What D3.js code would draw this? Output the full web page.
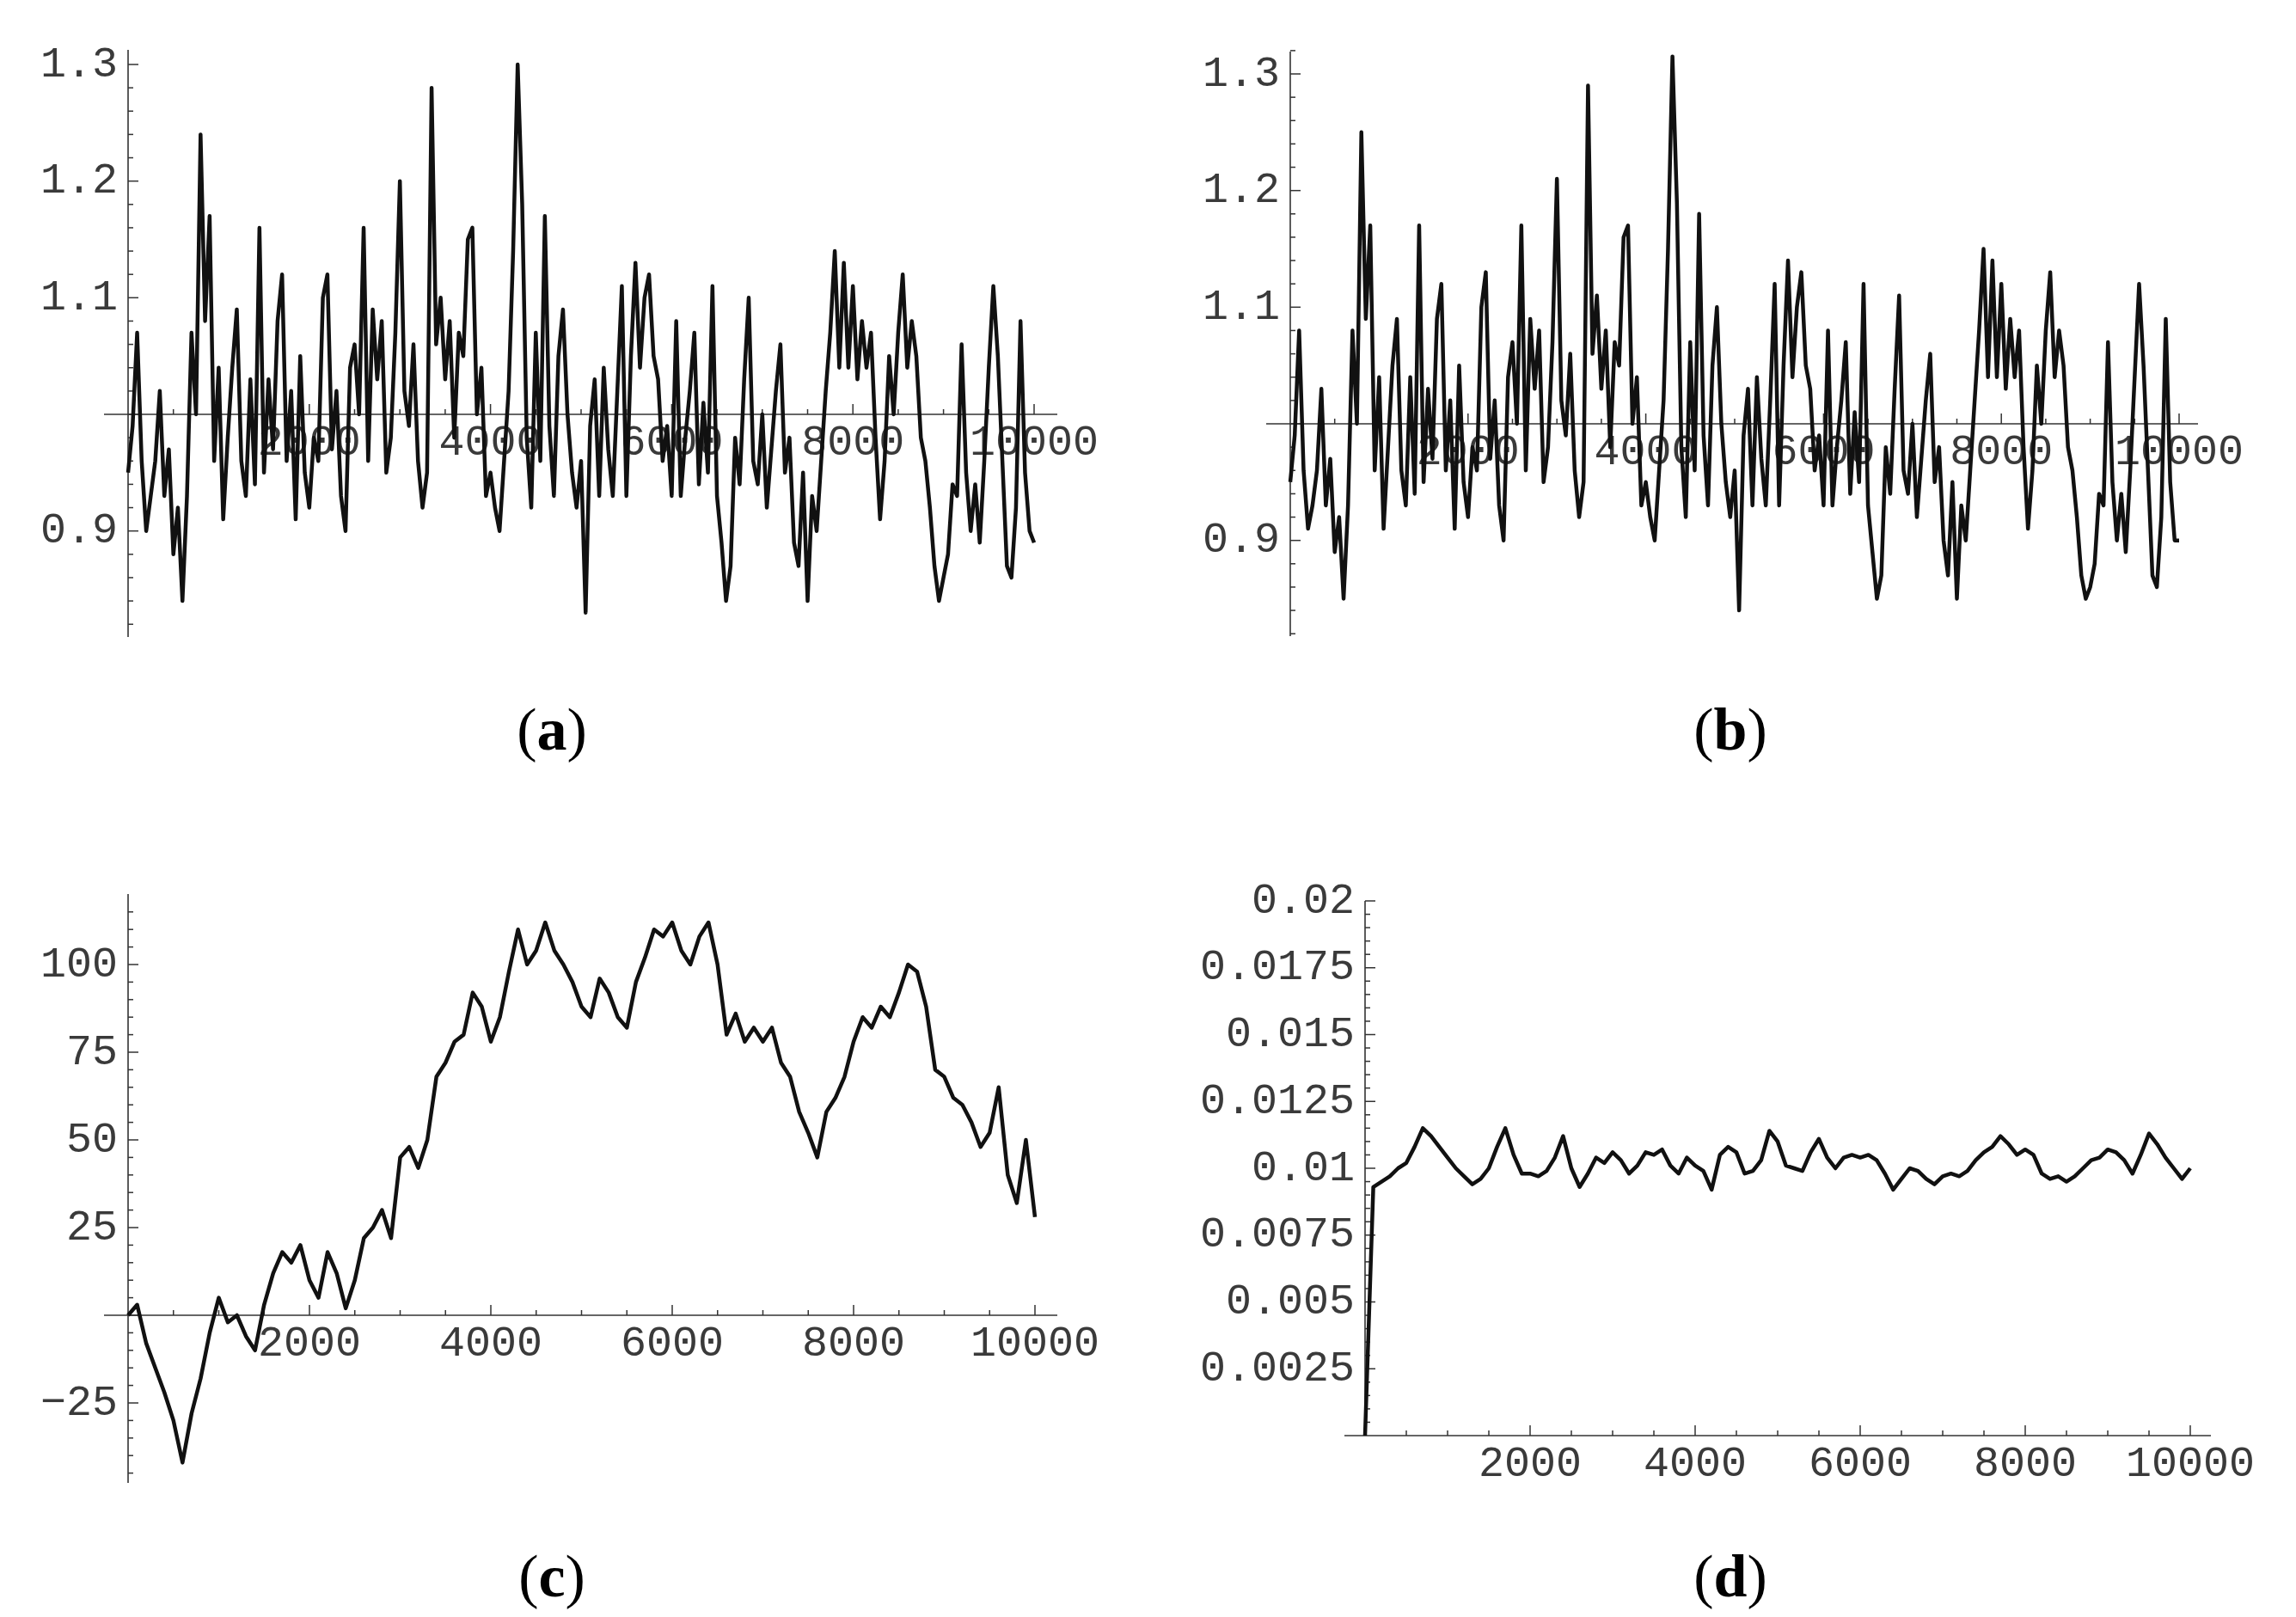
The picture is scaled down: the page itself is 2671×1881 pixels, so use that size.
<!DOCTYPE html>
<html><head><meta charset="utf-8">
<script src="https://cdn.jsdelivr.net/npm/d3@7"></script>
<style>body{margin:0;background:#fff}svg{display:block}</style>
</head><body>
<script>
// ---------- data ----------
const stepAB = 50;
const seriesA = [0.95,0.99,1.07,0.96,0.90,0.93,0.96,1.02,0.93,0.97,0.88,0.92,0.84,0.93,1.07,1.00,1.24,1.08,1.17,0.96,
1.04,0.91,0.98,1.04,1.09,0.96,0.93,1.03,0.94,1.16,0.95,1.03,0.97,1.08,1.12,0.96,1.02,0.91,1.05,0.95,
0.92,0.98,0.96,1.10,1.12,0.97,1.02,0.93,0.90,1.04,1.06,1.00,1.16,0.96,1.09,1.03,1.08,0.95,0.98,1.07,
1.20,1.02,0.99,1.06,0.96,0.92,0.95,1.28,1.06,1.10,1.03,1.08,0.98,1.07,1.05,1.15,1.16,1.00,1.04,0.93,
0.95,0.92,0.90,0.96,1.02,1.14,1.30,1.18,0.98,0.92,1.07,0.96,1.17,0.99,0.93,1.05,1.09,1.00,0.95,0.92,
0.96,0.83,0.99,1.03,0.93,1.04,0.97,0.93,1.02,1.11,0.93,1.05,1.13,1.04,1.10,1.12,1.05,1.03,0.96,0.99,
0.93,1.08,0.93,0.98,1.02,1.07,0.94,1.01,0.95,1.11,0.93,0.89,0.84,0.87,0.98,0.94,1.03,1.10,0.96,0.94,
1.00,0.92,0.97,1.02,1.06,0.95,0.98,0.89,0.87,0.95,0.84,0.93,0.90,0.96,1.02,1.07,1.14,1.04,1.13,1.04,
1.11,1.03,1.08,1.04,1.07,0.98,0.91,0.96,1.05,1.00,1.07,1.12,1.04,1.08,1.05,0.98,0.96,0.92,0.87,0.84,
0.86,0.88,0.94,0.93,1.06,0.95,0.90,0.94,0.89,0.96,1.04,1.11,1.05,0.96,0.87,0.86,0.92,1.08,0.95,0.90,0.89];
const seriesB = [0.95,0.99,1.08,0.96,0.91,0.93,0.96,1.03,0.93,0.97,0.89,0.92,0.85,0.93,1.08,1.00,1.25,1.09,1.17,0.96,
1.04,0.91,0.98,1.05,1.09,0.96,0.93,1.04,0.94,1.17,0.95,1.03,0.97,1.09,1.12,0.96,1.02,0.91,1.05,0.95,
0.92,0.98,0.96,1.10,1.13,0.97,1.02,0.93,0.90,1.04,1.07,1.00,1.17,0.96,1.09,1.03,1.08,0.95,0.98,1.07,
1.21,1.02,0.99,1.06,0.96,0.92,0.95,1.29,1.06,1.11,1.03,1.08,0.98,1.07,1.05,1.16,1.17,1.00,1.04,0.93,
0.95,0.92,0.90,0.96,1.02,1.15,1.315,1.19,0.98,0.92,1.07,0.96,1.18,0.99,0.93,1.05,1.10,1.00,0.95,0.92,
0.96,0.84,0.99,1.03,0.93,1.04,0.97,0.93,1.02,1.12,0.93,1.05,1.14,1.04,1.10,1.13,1.05,1.03,0.96,0.99,
0.93,1.08,0.93,0.98,1.02,1.07,0.94,1.01,0.95,1.12,0.93,0.89,0.85,0.87,0.98,0.94,1.03,1.11,0.96,0.94,
1.00,0.92,0.97,1.02,1.06,0.95,0.98,0.90,0.87,0.95,0.85,0.93,0.90,0.96,1.02,1.08,1.15,1.04,1.14,1.04,
1.12,1.03,1.09,1.04,1.08,0.98,0.91,0.96,1.05,1.00,1.08,1.13,1.04,1.08,1.05,0.98,0.96,0.92,0.87,0.85,
0.86,0.88,0.94,0.93,1.07,0.95,0.90,0.94,0.89,0.96,1.04,1.12,1.05,0.96,0.87,0.86,0.92,1.09,0.95,0.90,0.90];
const stepCD = 100;
const seriesC = [0,3,-8,-15,-22,-30,-42,-28,-18,-5,5,-2,0,-6,-10,3,12,18,15,20,
10,5,18,12,2,10,22,25,30,22,45,48,42,50,68,72,78,80,92,88,
78,85,98,110,100,104,112,104,100,95,88,85,96,92,85,82,95,102,110,108,
112,104,100,108,112,100,80,86,78,82,78,82,72,68,58,52,45,58,62,68,
78,85,82,88,85,92,100,98,88,70,68,62,60,55,48,52,65,40,32,50,28];
const seriesD = [0,0.0093,0.0095,0.0097,0.0100,0.0102,0.0108,0.0115,0.0112,0.0108,0.0104,0.0100,0.0097,0.0094,0.0096,0.0100,0.0108,0.0115,0.0105,0.0098,
0.0098,0.0097,0.0099,0.0104,0.0112,0.0100,0.0093,0.0098,0.0104,0.0102,0.0106,0.0103,0.0098,0.0101,0.0106,0.0105,0.0107,0.0101,0.0098,0.0104,
0.0101,0.0099,0.0092,0.0105,0.0108,0.0106,0.0098,0.0099,0.0103,0.0114,0.0110,0.0101,0.0100,0.0099,0.0106,0.0111,0.0104,0.0100,0.0104,0.0105,
0.0104,0.0105,0.0103,0.0098,0.0092,0.0096,0.0100,0.0099,0.0096,0.0094,0.0097,0.0098,0.0097,0.0099,0.0103,0.0106,0.0108,0.0112,0.0109,0.0105,
0.0107,0.0105,0.0098,0.0096,0.0097,0.0095,0.0097,0.0100,0.0103,0.0104,0.0107,0.0106,0.0103,0.0098,0.0105,0.0113,0.0109,0.0104,0.0100,0.0096,0.0100];
const xTicks = [2000,4000,6000,8000,10000];
const yTicksAB = [0.9,1.1,1.2,1.3];
const yTicksC = [-25,25,50,75,100];
const yTicksD = [0.0025,0.005,0.0075,0.01,0.0125,0.015,0.0175,0.02];
const yLabelsD = ["0.0025","0.005","0.0075","0.01","0.0125","0.015","0.0175","0.02"];
const panelLabels = ["a","b","c","d"];

// ---------- drawing ----------
const W=2671,H=1881;
const svg=d3.select("body").append("svg").attr("width",W).attr("height",H);
const tickFill="#3a3a3a";

function panel(o){
  const g=svg.append("g");
  const x=d3.scaleLinear().domain([0,10000]).range([o.x0,o.x1]);
  const y=d3.scaleLinear().domain(o.yd).range(o.yr);
  const axY=y(o.xAxisAt);
  g.append("line").attr("x1",o.xl0).attr("x2",o.xl1).attr("y1",axY).attr("y2",axY).attr("stroke","#333").attr("stroke-width",1.6);
  g.append("line").attr("x1",o.x0).attr("x2",o.x0).attr("y1",o.yt).attr("y2",o.yb).attr("stroke","#333").attr("stroke-width",1.6);
  const xmin=d3.range(500,10001,500);
  g.selectAll(null).data(xmin).join("line").attr("x1",d=>x(d)).attr("x2",d=>x(d))
    .attr("y1",axY).attr("y2",d=>axY-(d%2000===0?12:6)).attr("stroke","#333").attr("stroke-width",1.5);
  g.selectAll(null).data(xTicks).join("text").attr("x",d=>x(d)).attr("y",axY+33)
    .attr("text-anchor","middle").attr("dominant-baseline","central")
    .attr("font-family","Liberation Mono").attr("font-size",50).attr("fill",tickFill).text(d=>d);
  const ymin=d3.range(o.minStart,o.minEnd+o.minStep/2,o.minStep);
  g.selectAll(null).data(ymin).join("line").attr("x1",o.x0).attr("x2",d=>o.x0+(o.isMajor(d)?12:6))
    .attr("y1",d=>y(d)).attr("y2",d=>y(d)).attr("stroke","#333").attr("stroke-width",1.5);
  g.selectAll(null).data(o.yTicks).join("text").attr("x",o.x0-12).attr("y",d=>y(d))
    .attr("text-anchor","end").attr("dominant-baseline","central")
    .attr("font-family","Liberation Mono").attr("font-size",50).attr("fill",tickFill)
    .text((d,i)=>o.yLabels?o.yLabels[i]:String(d).replace("-","\u2212"));
  const line=d3.line().x((d,i)=>x(i*o.step)).y(d=>y(d));
  g.append("path").datum(o.data).attr("d",line).attr("fill","none").attr("stroke","#111")
    .attr("stroke-width",4.5).attr("stroke-linejoin","round");
  g.append("text").attr("x",o.lx).attr("y",o.ly).attr("text-anchor","middle").attr("dominant-baseline","central")
    .attr("font-family","Liberation Serif").attr("font-size",70).attr("fill","#000")
    .html(`(<tspan font-weight="bold">${o.label}</tspan>)`);
}
const near=(a,b)=>Math.abs(a-b)<1e-9;
panel({x0:149,x1:1203,xl0:121,xl1:1230,yd:[1.0,1.3],yr:[482,75],xAxisAt:1.0,yt:58,yb:741,
  minStart:0.82,minEnd:1.3,minStep:0.02,isMajor:d=>near(Math.round(d*10)/10,d),yTicks:yTicksAB,
  data:seriesA,step:stepAB,label:panelLabels[0],lx:642,ly:848});
panel({x0:1501,x1:2535,xl0:1473,xl1:2557,yd:[1.0,1.3],yr:[493,86],xAxisAt:1.0,yt:60,yb:740,
  minStart:0.82,minEnd:1.32,minStep:0.02,isMajor:d=>near(Math.round(d*10)/10,d),yTicks:yTicksAB,
  data:seriesB,step:stepAB,label:panelLabels[1],lx:2013,ly:848});
panel({x0:149,x1:1204,xl0:121,xl1:1230,yd:[0,100],yr:[1530,1122],xAxisAt:0,yt:1040,yb:1725,
  minStart:-45,minEnd:115,minStep:5,isMajor:d=>d%25===0,yTicks:yTicksC,
  data:seriesC,step:stepCD,label:panelLabels[2],lx:642,ly:1833});
panel({x0:1588,x1:2548,xl0:1564,xl1:2572,yd:[0,0.02],yr:[1670,1048],xAxisAt:0,yt:1048,yb:1670,
  minStart:0.0005,minEnd:0.02,minStep:0.0005,isMajor:d=>near(Math.round(d/0.0025)*0.0025,d),yTicks:yTicksD,yLabels:yLabelsD,
  data:seriesD,step:stepCD,label:panelLabels[3],lx:2013,ly:1833});
</script>
</body></html>
